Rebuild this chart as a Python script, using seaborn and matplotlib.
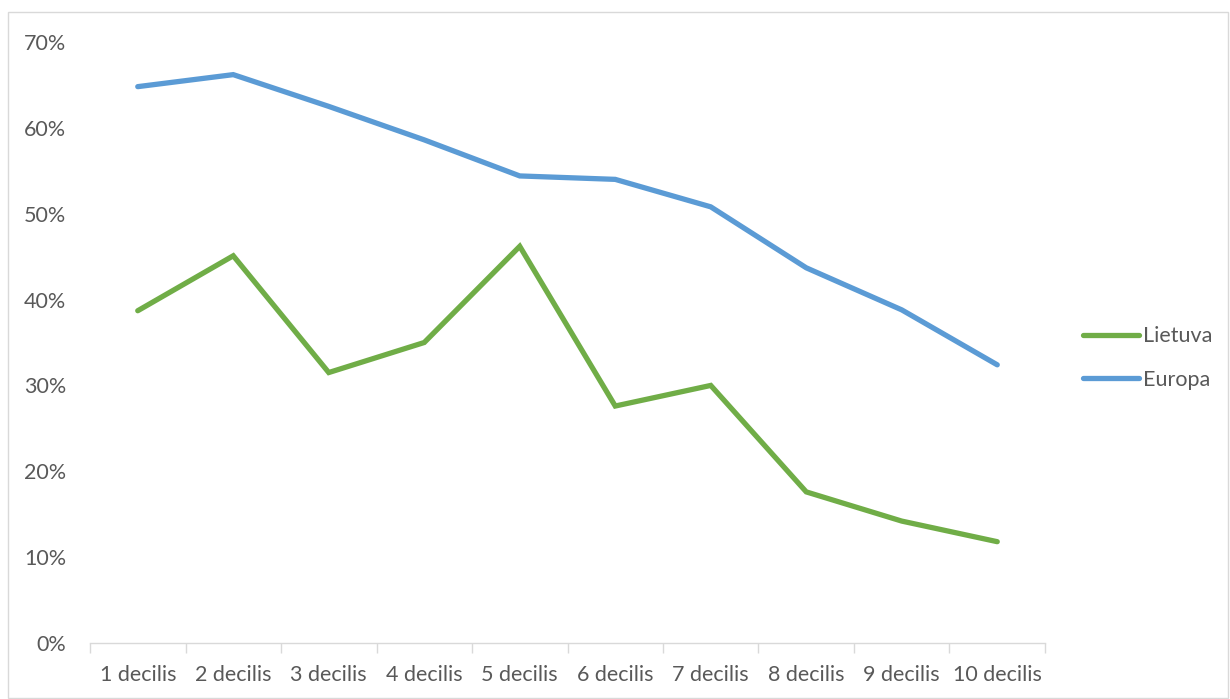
import numpy as np
import pandas as pd
import seaborn as sns
import matplotlib.pyplot as plt
from matplotlib.patches import Rectangle
from matplotlib.ticker import FixedLocator, PercentFormatter

categories = ['1 decilis', '2 decilis', '3 decilis', '4 decilis', '5 decilis',
              '6 decilis', '7 decilis', '8 decilis', '9 decilis', '10 decilis']
lietuva = [38.7, 45.1, 31.5, 35.0, 46.2, 27.6, 30.0, 17.6, 14.2, 11.8]
europa = [64.8, 66.2, 62.5, 58.6, 54.4, 54.0, 50.8, 43.7, 38.8, 32.4]
series = ['Lietuva', 'Europa']
colors = ['#70AD47', '#5B9BD5']

df = pd.DataFrame({'x': list(range(len(categories))) * 2,
                   'value': lietuva + europa,
                   'series': ['Lietuva'] * len(lietuva) + ['Europa'] * len(europa)})

sns.set_theme(style='white')
plt.rcParams['font.family'] = ['Lato', 'DejaVu Sans']
fs = 15.5

fig = plt.figure(figsize=(12.3, 6.99), dpi=100)
ax = fig.add_axes([90 / 1230, 1 - 643 / 699, 955 / 1230, 601 / 699])

sns.lineplot(data=df, x='x', y='value', hue='series', hue_order=series,
             palette=colors, linewidth=3.8, ax=ax, solid_capstyle='round',
             solid_joinstyle='miter')

ax.set_xlim(-0.5, len(categories) - 0.5)
ax.set_ylim(0, 70)
ax.set_yticks(np.arange(0, 71, 10))
ax.yaxis.set_major_formatter(PercentFormatter(decimals=0))
ax.set_xticks(range(len(categories)))
ax.set_xticklabels(categories)
ax.xaxis.set_minor_locator(FixedLocator(np.arange(-0.5, len(categories), 1)))
ax.tick_params(axis='x', which='major', length=0, pad=16, labelsize=fs, labelcolor='#595959')
ax.tick_params(axis='x', which='minor', length=7, width=1, color='#D9D9D9', bottom=True)
ax.tick_params(axis='y', length=0, pad=17, labelsize=fs, labelcolor='#595959')
ax.set_xlabel('')
ax.set_ylabel('')
for side in ['top', 'right', 'left']:
    ax.spines[side].set_visible(False)
ax.spines['bottom'].set_color('#D9D9D9')
ax.spines['bottom'].set_linewidth(1)

handles, labels = ax.get_legend_handles_labels()
ax.legend(handles, labels, loc='center left', bbox_to_anchor=(1083 / 1230, 1 - 358 / 699),
          bbox_transform=fig.transFigure, frameon=False, fontsize=fs,
          borderpad=0, borderaxespad=0,
          handlelength=2.6, handletextpad=0.2, labelspacing=1.1, labelcolor='#595959')

fig.patches.append(Rectangle((8 / 1230, 1 / 699), 1220 / 1230, 686 / 699,
                             transform=fig.transFigure, fill=False,
                             edgecolor='#D9D9D9', linewidth=1))

fig.savefig('out.png', dpi=100)
